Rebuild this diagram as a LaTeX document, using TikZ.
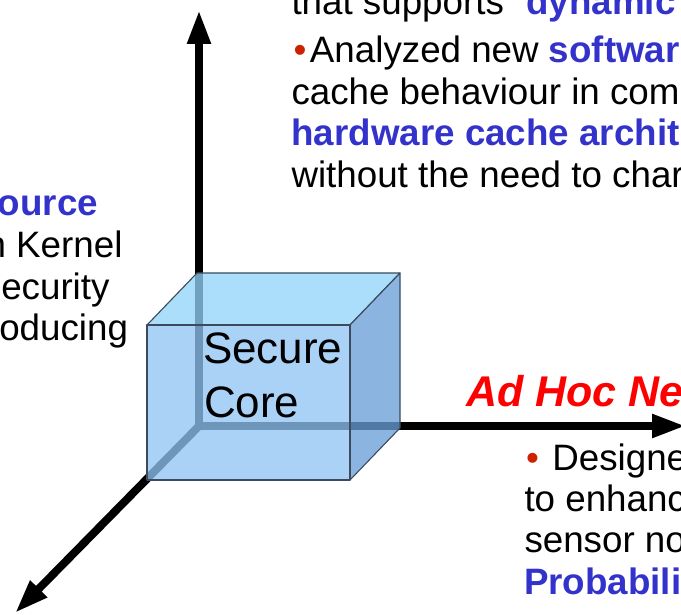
\documentclass[tikz,border=0pt]{standalone}
\usepackage{fontspec}
\setmainfont{Liberation Sans}
\usetikzlibrary{arrows.meta}

\definecolor{hiblue}{RGB}{51,51,204}
\definecolor{bulletred}{RGB}{204,34,0}
\definecolor{frontblue}{RGB}{144,196,244}
\definecolor{topblue}{RGB}{146,212,248}
\definecolor{sideblue}{RGB}{106,158,216}
\definecolor{cubeedge}{RGB}{60,74,92}

\begin{document}
\begin{tikzpicture}[x=1pt,y=-1pt,
  axis/.style={line width=8pt, draw=black, line cap=rect},
  axistip/.style={-{Triangle[length=34pt,width=22pt]}},
  face/.style={draw=cubeedge, line width=1.1pt, line join=round, fill opacity=0.77},
  body/.style={anchor=base west, inner sep=0pt, outer sep=0pt,
    font=\fontsize{36.75}{42}\selectfont},
  bodyr/.style={body, anchor=base east},
  label/.style={anchor=base west, inner sep=0pt, outer sep=0pt,
    font=\fontsize{44}{52}\selectfont},
  heading/.style={anchor=base west, inner sep=0pt, outer sep=0pt,
    font=\fontsize{43}{50}\selectfont\bfseries\itshape, text=red}
]
\useasboundingbox (0,0) rectangle (681,615);
\clip (0,0) rectangle (681,615);

% three axes meeting at the back corner of the cube
\coordinate (O) at (199,426);
\coordinate (up) at (199,10);
\coordinate (right) at (686,426);
\coordinate (down) at (15,613);
\draw[axis, axistip] (O) -- (up);
\draw[axis, axistip] (O) -- (right);
\draw[axis, axistip] (O) -- (down);

% translucent cube: front, back offset by (50,-52)
\coordinate (A) at (147,325);
\coordinate (B) at (350,325);
\coordinate (C) at (350,480);
\coordinate (D) at (147,480);
\coordinate (E) at (197,273);
\coordinate (F) at (400,273);
\coordinate (G) at (400,428);
\draw[face, fill=topblue] (A) -- (B) -- (F) -- (E) -- cycle;
\draw[face, fill=sideblue] (B) -- (F) -- (G) -- (C) -- cycle;
\draw[face, fill=frontblue] (A) -- (B) -- (C) -- (D) -- cycle;

\node[label] (secure) at (203,363) {Secure};
\node[label] (core) at (204,417) {Core};

% upper right text block
\node[body] (t1) at (291.5,15) {that supports “\textcolor{hiblue}{\bfseries dynamic}};
\node[body] (t2) at (293.6,63) {\textcolor{bulletred}{•}\hspace{3.5pt}Analyzed new \textcolor{hiblue}{\bfseries softwar}};
\node[body] (t3) at (291.5,104.5) {cache behaviour in com};
\node[body, text=hiblue, font=\fontsize{36.75}{42}\selectfont\bfseries] (t4) at (291.5,146) {hardware cache archit};
\node[body] (t5) at (291.5,187.5) {without the need to char};

% left text block
\node[bodyr, text=hiblue, font=\fontsize{36.75}{42}\selectfont\bfseries] (l1) at (98,216) {ource};
\node[bodyr] (l2) at (122.5,258) {n Kernel};
\node[bodyr] (l3) at (109.5,299.5) {ecurity};
\node[bodyr] (l4) at (128,341) {oducing};

% lower right text block
\node[heading] (b0) at (466,406) {Ad Hoc Ne};
\node[body] (b1) at (526,470) {\textcolor{bulletred}{•}\hspace{13.5pt}Designe};
\node[body] (b2) at (524.5,511) {to enhanc};
\node[body] (b3) at (524.5,552) {sensor no};
\node[body, text=hiblue, font=\fontsize{36.75}{42}\selectfont\bfseries] (b4) at (524,594) {Probabili};
\end{tikzpicture}
\end{document}
